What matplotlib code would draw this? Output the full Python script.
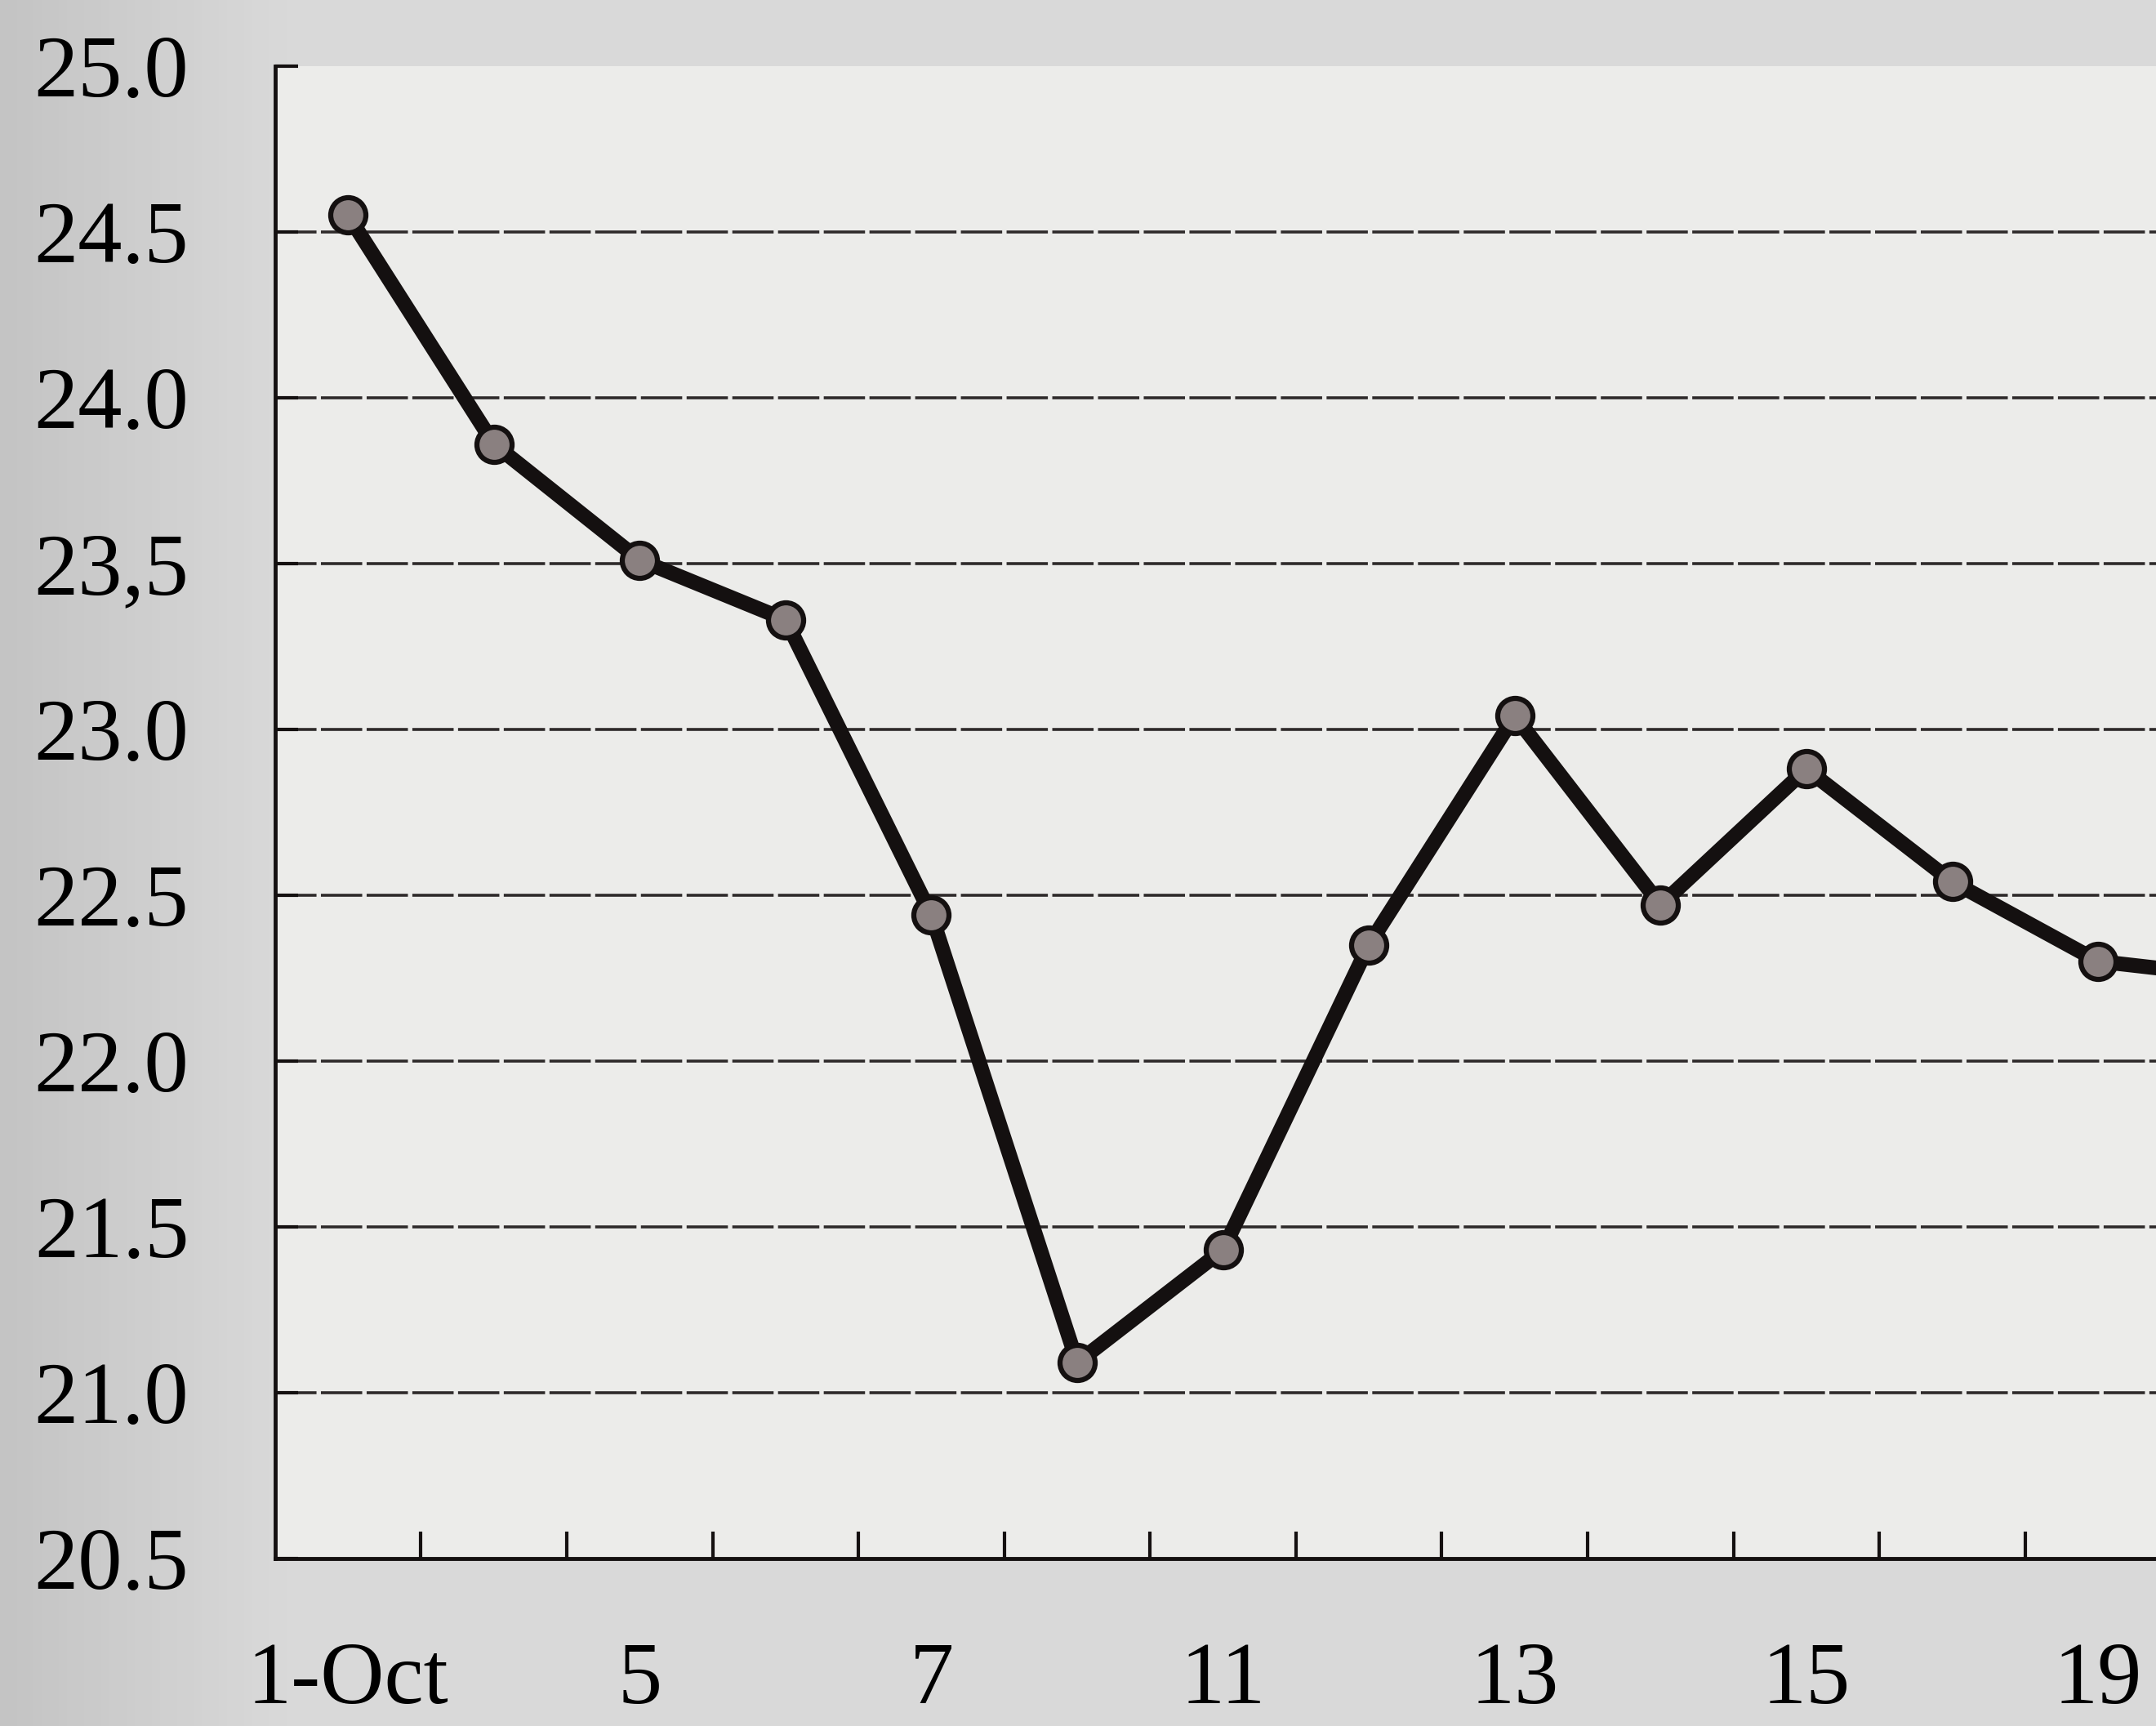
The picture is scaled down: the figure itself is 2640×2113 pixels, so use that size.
import numpy as np
import matplotlib
matplotlib.use("Agg")
import matplotlib.pyplot as plt
from matplotlib.ticker import FixedLocator

# valeurs
jours = ["1-Oct", "", "5", "", "7", "", "11", "", "13", "", "15", "", "19", ""]
valeurs = [24.55, 23.86, 23.51, 23.33, 22.44, 21.09, 21.43, 22.35, 23.04,
           22.47, 22.88, 22.54, 22.30, 22.25]
y_ticks = [20.5, 21.0, 21.5, 22.0, 22.5, 23.0, 23.5, 24.0, 24.5, 25.0]
y_labels = ["20.5", "21.0", "21.5", "22.0", "22.5", "23.0", "23,5", "24.0", "24.5", "25.0"]

plt.rcParams['font.family'] = ['Liberation Serif', 'DejaVu Serif']

fig = plt.figure(figsize=(26.4, 21.13), dpi=100)
fig.patch.set_facecolor('#d8d8d8')

# fond légèrement plus sombre à gauche (scan)
bg = fig.add_axes([0, 0, 1, 1], zorder=-10)
grad = np.linspace(0, 1, 256)
grad = np.clip(grad / 0.13, 0, 1)
bg.imshow(grad[np.newaxis, :], aspect='auto', cmap=matplotlib.colors.LinearSegmentedColormap.from_list(
    'g', ['#c4c4c4', '#d9d9d9']), extent=[0, 1, 0, 1])
bg.axis('off')

ax = fig.add_axes([0.1276, 0.0972, 0.947, 0.8646])
ax.set_facecolor('#ececea')

x = np.arange(len(valeurs))
ax.plot(x, valeurs, color='#141010', lw=13, marker='o', markersize=31,
        markerfacecolor='#8a8080', markeredgecolor='#141010', markeredgewidth=4.5,
        solid_joinstyle='round', zorder=3, clip_on=False)

ax.set_xlim(-0.5, 13.5)
ax.set_ylim(20.5, 25.0)

ax.set_yticks(y_ticks)
ax.set_yticklabels(y_labels)
ax.set_xticks(x)
ax.set_xticklabels(jours)
ax.xaxis.set_minor_locator(FixedLocator(x[:-1] + 0.5))

ax.tick_params(axis='x', which='major', length=0, pad=74, labelsize=78)
ax.tick_params(axis='x', which='minor', direction='in', length=24, width=3, color='#141010')
ax.tick_params(axis='y', direction='in', length=20, width=3, pad=76, labelsize=78, color='#141010')

for yv in y_ticks[1:-1]:
    ax.axhline(yv, color='#2e2a2a', lw=2.6, ls=(0, (14, 1.5)), zorder=1)

ax.spines['top'].set_visible(False)
ax.spines['right'].set_visible(False)
ax.spines['left'].set_linewidth(3.5)
ax.spines['bottom'].set_linewidth(3.5)
ax.spines['left'].set_color('#141010')
ax.spines['bottom'].set_color('#141010')

plt.savefig("out.png", dpi=100, facecolor=fig.get_facecolor())
